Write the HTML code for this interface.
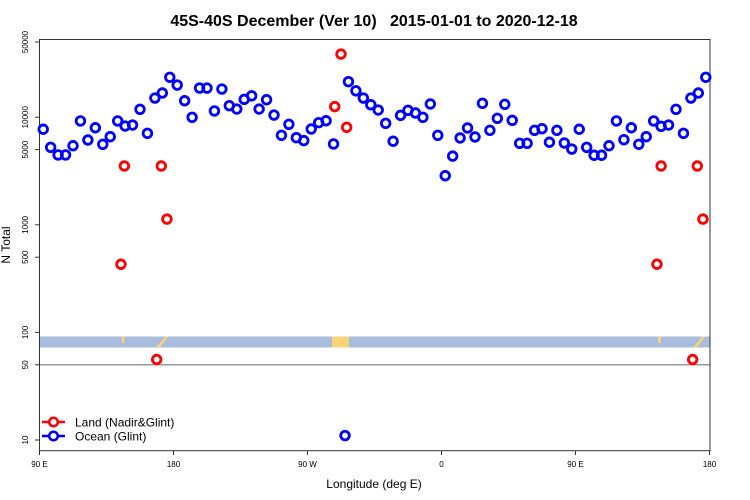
<!DOCTYPE html>
<html><head><meta charset="utf-8"><style>
body{margin:0;background:#fff}
svg{display:block;font-family:"Liberation Sans",sans-serif}
</style></head><body>
<svg id="chart" width="750" height="500" xmlns="http://www.w3.org/2000/svg">
<text x="374" y="26" text-anchor="middle" font-size="16" font-weight="bold">45S-40S December (Ver 10)&#160;&#160;&#160;2015-01-01 to 2020-12-18</text>
<text x="374" y="488" text-anchor="middle" font-size="12">Longitude (deg E)</text>
<text transform="translate(10,245) rotate(-90)" text-anchor="middle" font-size="12">N Total</text>
<g id="strip">
<rect x="39.5" y="336.5" width="671" height="11" fill="#a8bcdc"/>
<rect x="121.5" y="337" width="3" height="6" fill="#f8d478"/>
<polygon points="156,347 160,343 163,339 166,336.5 168,336.5 165,341 160,347" fill="#f8d478"/>
<rect x="332" y="336.5" width="17" height="11" fill="#f8d478"/>
<rect x="658" y="337" width="3" height="6" fill="#f8d478"/>
<polygon points="693,347 697,343 700,339 703,336.5 705,336.5 702,341 697,347" fill="#f8d478"/>
</g>
<line x1="39.5" y1="364.7" x2="710" y2="364.7" stroke="#999" stroke-width="1.5"/>
<rect x="39.5" y="39.5" width="670.5" height="411.2" fill="none" stroke="#333" stroke-width="1"/>
<g id="axes"></g>
<g id="marks"></g>
<g>
<g>
<line x1="42" y1="422" x2="65" y2="422" stroke="#f00" stroke-width="2.5"/>
<circle cx="53.5" cy="422" r="4.3" fill="#fff" stroke="#f00" stroke-width="2.5"/>
<text x="75" y="426.5" font-size="12">Land (Nadir&amp;Glint)</text></g>
<g>
<line x1="42" y1="436" x2="65" y2="436" stroke="#00f" stroke-width="2.5"/>
<circle cx="53.5" cy="436" r="4.3" fill="#fff" stroke="#00f" stroke-width="2.5"/>
<text x="75" y="440.5" font-size="12">Ocean (Glint)</text></g>
</g>
</svg>
<script>
const xTickLons=[90,180,270,360,450,540];
const xTickLabels=["90 E","180","90 W","0","90 E","180"];
const yTickVals=[10,50,100,500,1000,5000,10000,50000];
const yTickLabels=["10","50","100","500","1000","5000","10000","50000"];
const oceanVals=[7730,5250,4460,4460,5430,9230,6140,7980,5600,6590,9230,8280,8460,11840,7080,15070,16790,23500,19900,14220,9980,18660,18660,11430,18270,12790,11910,14650,15800,11910,14540,10470,6790,8590,6450,6060,7770,8890,9270,5640,null,21400,17600,15070,13070,11660,8770,5980,10400,11590,10940,9980,13270,6790,2860,4350,6410,7940,6550,13460,7550,9770,13180,9350,5720,5720,7550,7820,5850,7550,5760,5060,7730,5250,4430,4430,5430,9230,6180,7980,5600,6590,9230,8220,8460,11840,7080,15070,16790,23500];
const oceanExtraLons=[295.2];
const oceanExtraVals=[11];
const landLons=[144.7,147,168.7,171.8,175.6,288.3,292.5,296.3,504.7,507.5,528.7,531.8,535.6];
const landVals=[430,3520,56,3520,1130,12540,38600,8050,430,3520,56,3520,1130];
const NS="http://www.w3.org/2000/svg";
function xs(l){return 39.5+(l-90)*1.4889;}
function ys(v){return 440-(Math.log10(v)-1)*107.6;}
const axes=document.getElementById('axes'),marks=document.getElementById('marks');
xTickLons.forEach((l,i)=>{
 const t=document.createElementNS(NS,'line');
 t.setAttribute('x1',xs(l));t.setAttribute('x2',xs(l));t.setAttribute('y1',450.7);t.setAttribute('y2',455);t.setAttribute('stroke','#333');
 
 
 axes.appendChild(t);
 const tx=document.createElementNS(NS,'text');
 tx.setAttribute('x',xs(l));tx.setAttribute('y',467);tx.setAttribute('text-anchor','middle');tx.setAttribute('font-size','8');
 tx.textContent=xTickLabels[i];
 
 
 axes.appendChild(tx);
});
yTickVals.forEach((v,i)=>{
 const y=ys(v);
 const t=document.createElementNS(NS,'line');
 t.setAttribute('x1',35);t.setAttribute('x2',39.5);t.setAttribute('y1',y);t.setAttribute('y2',y);t.setAttribute('stroke','#333');
 
 
 axes.appendChild(t);
 const tx=document.createElementNS(NS,'text');
 tx.setAttribute('transform','translate(28,'+y+') rotate(-90)');tx.setAttribute('text-anchor','middle');tx.setAttribute('font-size','8');
 tx.textContent=yTickLabels[i];
 
 
 axes.appendChild(tx);
});
function pt(l,v,c,name){
 const e=document.createElementNS(NS,'circle');
 e.setAttribute('cx',xs(l));e.setAttribute('cy',ys(v));e.setAttribute('r',4.3);
 e.setAttribute('fill','none');e.setAttribute('stroke',c);e.setAttribute('stroke-width',2.8);
 
 
 marks.appendChild(e);
}
oceanVals.forEach((v,i)=>{if(v!=null)pt(92.5+5*i,v,'#00f','ocean-point');});
oceanExtraVals.forEach((v,i)=>pt(oceanExtraLons[i],v,'#00f','ocean-point'));
landVals.forEach((v,i)=>pt(landLons[i],v,'#f00','land-point'));
</script>
</body></html>
